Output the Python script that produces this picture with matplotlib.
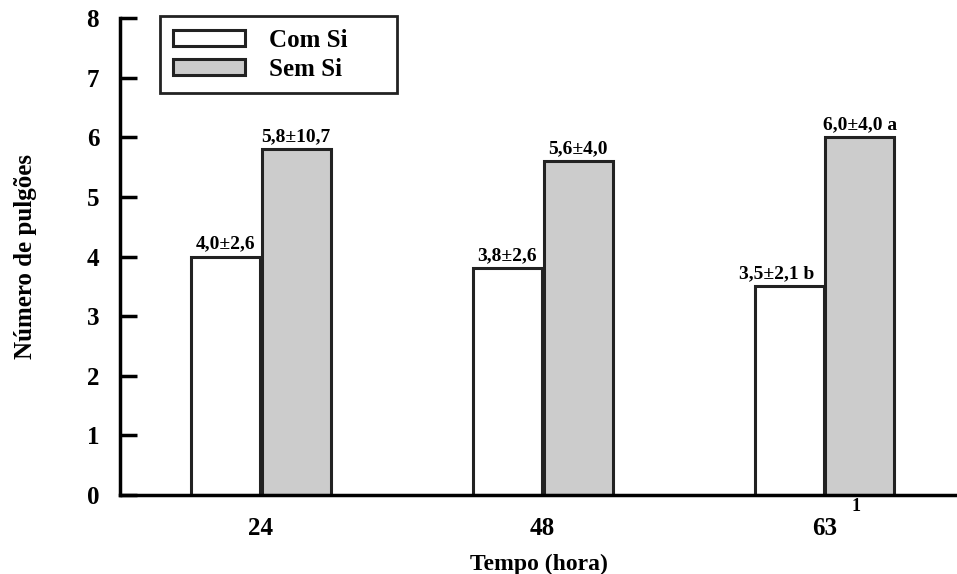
import numpy as np
import matplotlib.pyplot as plt

tempos = ['24', '48', '63']
com_si = [4.0, 3.8, 3.5]
sem_si = [5.8, 5.6, 6.0]
com_si_labels = ['4,0±2,6', '3,8±2,6', '3,5±2,1 b']
sem_si_labels = ['5,8±10,7', '5,6±4,0', '6,0±4,0 a']


def main():
    plt.rcParams['font.family'] = ['Liberation Serif', 'DejaVu Serif']
    plt.rcParams['font.weight'] = 'bold'

    fig = plt.figure(figsize=(9.57, 5.74), dpi=100)
    ax = fig.add_axes([0.1254, 0.1376, 0.8746, 0.831])

    x = np.arange(len(tempos))
    w = 0.245
    b1 = ax.bar(x - w / 2 - 0.003, com_si, w, color='white', edgecolor='#222222',
                linewidth=2.2, label='Com Si')
    b2 = ax.bar(x + w / 2 + 0.003, sem_si, w, color='#cccccc', edgecolor='#222222',
                linewidth=2.2, label='Sem Si')

    # the last white-bar label sits a little to the left in the original
    shifts = [0, 0, -9]
    for rect, txt, dx in zip(b1, com_si_labels, shifts):
        ax.annotate(txt, (rect.get_x() + rect.get_width() / 2, rect.get_height()),
                    xytext=(dx, 3), textcoords='offset points',
                    ha='center', va='bottom', fontsize=14, fontweight='bold')
    for rect, txt in zip(b2, sem_si_labels):
        ax.annotate(txt, (rect.get_x() + rect.get_width() / 2, rect.get_height()),
                    xytext=(0, 3), textcoords='offset points',
                    ha='center', va='bottom', fontsize=14, fontweight='bold')

    ax.set_xlim(-0.5, 2.47)
    ax.set_ylim(0, 8)
    ax.set_yticks(range(0, 9))
    ax.set_xticks(x)
    ax.set_xticklabels(tempos, fontsize=18, fontweight='bold')
    ax.tick_params(axis='y', direction='in', length=12, width=2.5, labelsize=18, pad=15)
    ax.tick_params(axis='x', length=0, pad=16)
    for lab in ax.get_yticklabels():
        lab.set_fontweight('bold')

    ax.text(2.11, -0.2, '1', fontsize=13, fontweight='bold', ha='center', va='center')

    for s in ['top', 'right']:
        ax.spines[s].set_visible(False)
    ax.spines['left'].set_linewidth(2.5)
    ax.spines['bottom'].set_linewidth(2.5)

    ax.set_ylabel('Número de pulgões', fontsize=18, fontweight='bold', labelpad=36)
    ax.set_xlabel('Tempo (hora)', fontsize=17, fontweight='bold', labelpad=10)

    leg = ax.legend(loc='upper left', bbox_to_anchor=(0.0478, 1.004, 0.283, 0.0),
                    mode='expand', fontsize=18, framealpha=1,
                    frameon=True, fancybox=False, edgecolor='#222222',
                    handlelength=2.9, handleheight=0.6, handletextpad=0.95,
                    borderpad=0.5, labelspacing=0.25, borderaxespad=0)
    leg.get_frame().set_linewidth(2)
    for t in leg.get_texts():
        t.set_fontweight('bold')

    fig.savefig('out.png', dpi=100)


if __name__ == '__main__':
    main()
